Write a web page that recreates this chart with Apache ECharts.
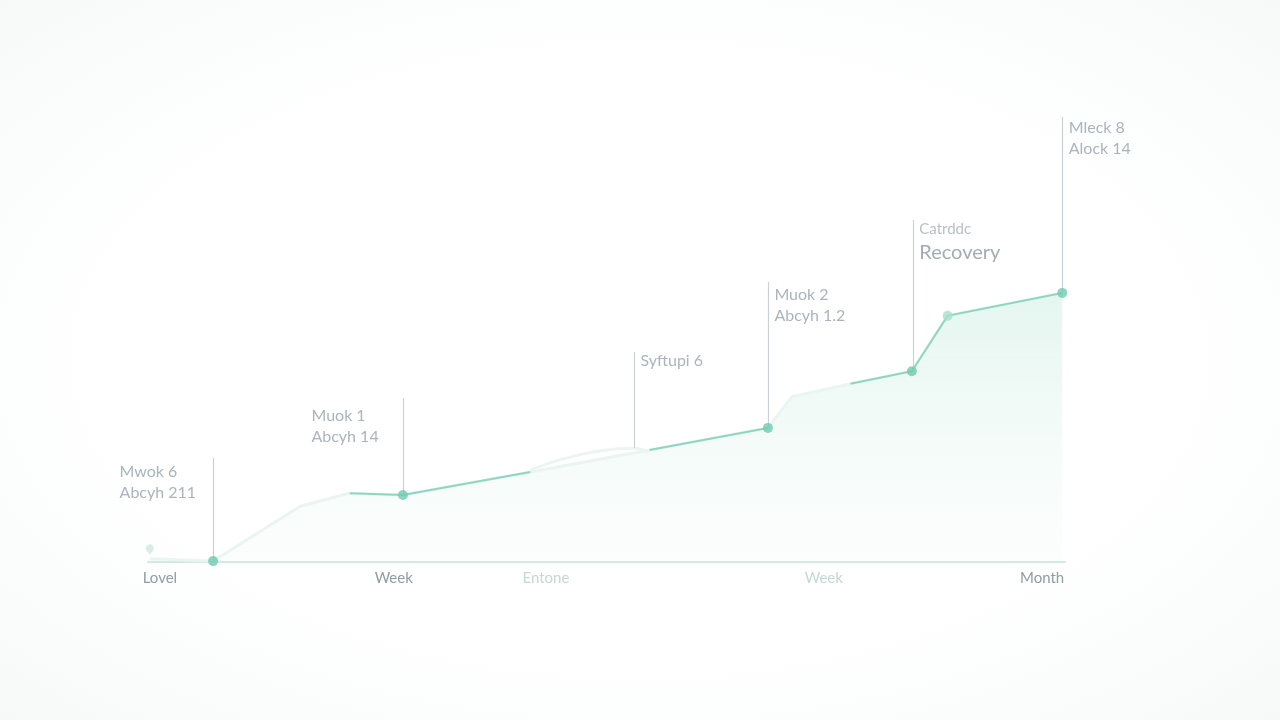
<!DOCTYPE html>
<html>
<head>
<meta charset="utf-8">
<script src="https://cdn.jsdelivr.net/npm/echarts@6/dist/echarts.min.js"></script>
<style>
  html, body { margin: 0; padding: 0; }
  body { background: radial-gradient(ellipse at 50% 50%, #ffffff 60%, #f7f9f9 100%); }
  #chart { width: 1280px; height: 720px; }
</style>
</head>
<body>
<div id="chart"></div>
<script>
// progress path (x along timeline, y level)
var pathX = [0.2, 7.1, 16.6, 22.0, 27.8, 41.7, 54.7, 67.6, 70.2, 76.6, 83.3, 87.2, 99.7];
var pathY = [0.7, 0.2, 12.4, 15.3, 14.9, 20.0, 24.9, 29.8, 36.7, 39.6, 42.4, 54.7, 59.8];
// which path segments are drawn strong (segment i joins point i and i+1)
var strongSegments = [false, false, false, true, true, false, true, false, false, true, true, true];

// faint echo above the middle stretch
var echoX = [41.7, 52.8, 54.7];
var echoY = [20.4, 25.3, 24.4];

// marked points
var dotX = [7.1, 27.8, 67.6, 83.3, 87.2, 99.7];
var dotY = [0.2, 14.9, 29.8, 42.4, 54.7, 59.8];

// callouts
var noteX = [7.1, 27.8, 53.0, 67.6, 83.4, 99.7];
var noteFrom = [0.2, 14.9, 25.3, 29.8, 42.4, 59.8];
var noteTo = [23.1, 36.4, 46.7, 62.2, 76.0, 98.9];
var noteLine1 = ['Mwok 6', 'Muok 1', 'Syftupi 6', 'Muok 2', 'Catrddc', 'Mleck 8'];
var noteLine2 = ['Abcyh 211', 'Abcyh 14', '', 'Abcyh 1.2', 'Recovery', 'Alock 14'];

// timeline labels
var tickValues = [1.3, 26.8, 43.4, 73.7, 97.5];
var tickLabels = ['Lovel', 'Week', 'Entone', 'Week', 'Month'];
var tickFaint = [false, false, true, true, false];

// callout text placement [dx, dy] relative to line top
var noteOffset = [[-93, 4], [-91, 8], [7, -1], [7, 3], [7, -1], [7, 1]];

var chart = echarts.init(document.getElementById('chart'));

var pathData = pathX.map(function (x, i) { return [x, pathY[i]]; });

// strong line: break with '-' where the segment is faint
var strongData = [];
for (var i = 0; i < pathX.length - 1; i++) {
  if (strongSegments[i]) {
    var last = strongData[strongData.length - 1];
    if (!last || last[0] !== pathX[i]) {
      if (strongData.length) strongData.push([pathX[i], '-']);
      strongData.push([pathX[i], pathY[i]]);
    }
    strongData.push([pathX[i + 1], pathY[i + 1]]);
  }
}

var dotData = dotX.map(function (x, i) {
  return {
    value: [x, dotY[i]],
    itemStyle: { color: i === 4 ? '#a6e0cf' : '#6fcbb0' }
  };
});

var noteLines = noteX.map(function (x, i) {
  return [{ coord: [x, noteFrom[i]] }, { coord: [x, noteTo[i]] }];
});

var noteData = noteX.map(function (x, i) {
  var text = '{a|' + noteLine1[i] + '}';
  if (noteLine2[i]) text += '\n{a|' + noteLine2[i] + '}';
  if (noteLine2[i] === 'Recovery') text = '{small|' + noteLine1[i] + '}\n{big|' + noteLine2[i] + '}';
  return {
    value: [x, noteTo[i]],
    label: {
      show: true,
      position: noteOffset[i],
      align: 'left',
      verticalAlign: 'top',
      formatter: text
    }
  };
});

chart.setOption({
  animation: false,
  backgroundColor: 'transparent',
  grid: { left: 148, right: 215, top: 112, bottom: 158 },
  xAxis: {
    type: 'value',
    min: 0,
    max: 100,
    splitLine: { show: false },
    axisTick: { show: false },
    axisLine: { show: true, lineStyle: { color: '#d3e9e3', width: 2 } },
    axisLabel: {
      customValues: tickValues,
      margin: 9,
      formatter: function (v) {
        var k = tickValues.indexOf(v);
        if (k < 0) return '';
        return (tickFaint[k] ? '{f|' : '{d|') + tickLabels[k] + '}';
      },
      rich: {
        d: { color: '#8d9ea6', fontSize: 15, fontFamily: 'Lato' },
        f: { color: '#c5d8d4', fontSize: 15, fontFamily: 'Lato' }
      }
    }
  },
  yAxis: {
    type: 'value',
    min: 0,
    max: 100,
    show: false,
    splitLine: { show: false }
  },
  series: [
    {
      name: 'trail',
      type: 'line',
      data: pathData,
      symbol: 'none',
      z: 1,
      lineStyle: { color: '#eaf5f1', width: 3 },
      areaStyle: {
        color: {
          type: 'linear', x: 0, y: 0, x2: 0, y2: 1,
          colorStops: [
            { offset: 0, color: 'rgba(170, 226, 208, 0.45)' },
            { offset: 1, color: 'rgba(225, 244, 238, 0.15)' }
          ]
        }
      }
    },
    {
      name: 'echo',
      type: 'line',
      data: echoX.map(function (x, i) { return [x, echoY[i]]; }),
      symbol: 'none',
      smooth: true,
      z: 2,
      lineStyle: { color: '#edf5f3', width: 3 }
    },
    {
      name: 'progress',
      type: 'line',
      data: strongData,
      symbol: 'none',
      connectNulls: false,
      z: 3,
      lineStyle: { color: '#8fd6c1', width: 2 }
    },
    {
      name: 'start',
      type: 'scatter',
      data: [[pathX[0], pathY[0]]],
      symbol: 'pin',
      symbolSize: 13,
      symbolOffset: [0, -3],
      z: 4,
      itemStyle: { color: '#cde8e0' }
    },
    {
      name: 'points',
      type: 'scatter',
      data: dotData,
      symbolSize: 10,
      z: 5
    },
    {
      name: 'notes',
      type: 'scatter',
      data: noteData,
      symbolSize: 1,
      itemStyle: { color: 'rgba(0,0,0,0)' },
      z: 6,
      label: {
        rich: {
          a: { color: '#93a3ab', fontSize: 16, lineHeight: 21, fontFamily: 'Lato' },
          small: { color: '#a3b0b6', fontSize: 15, lineHeight: 21, fontFamily: 'Lato' },
          big: { color: '#8a989f', fontSize: 20, lineHeight: 26, fontFamily: 'Lato' }
        }
      },
      markLine: {
        silent: true,
        symbol: ['none', 'none'],
        label: { show: false },
        lineStyle: { color: '#c9d1d5', width: 1.2, type: 'solid' },
        data: noteLines
      }
    }
  ]
});
</script>
</body>
</html>
